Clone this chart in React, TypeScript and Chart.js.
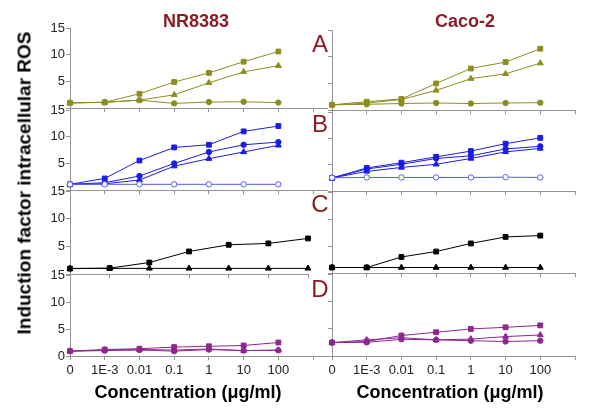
import React, { useEffect, useRef } from 'react';
import { Chart, registerables } from 'chart.js';
Chart.register(...registerables);

// ---------- data ----------
const xLabels = ['0', '1E-3', '0.01', '0.1', '1', '10', '100'];
const yTicks = [0, 5, 10, 15];

const nrA_sq = [1.0, 1.1, 2.7, 4.9, 6.6, 8.7, 10.6];
const nrA_tri = [1.0, 1.1, 1.5, 2.5, 4.75, 6.8, 7.95];
const nrA_circ = [1.0, 1.1, 1.5, 0.9, 1.15, 1.2, 1.05];

const caA_sq = [1.0, 1.6, 2.1, 5.0, 7.8, 9.0, 11.5];
const caA_tri = [1.0, 1.3, 2.0, 3.7, 5.9, 6.8, 8.8];
const caA_circ = [1.0, 1.1, 1.25, 1.35, 1.25, 1.35, 1.4];

const nrB_sq = [1.1, 2.2, 5.55, 8.0, 8.5, 11.0, 12.0];
const nrB_circ = [1.1, 1.4, 2.65, 5.0, 7.15, 8.5, 9.0];
const nrB_tri = [1.1, 1.2, 1.9, 4.5, 5.9, 7.15, 8.4];
const nrB_open = [1.1, 1.1, 1.1, 1.1, 1.1, 1.1, 1.1];

const caB_sq = [2.5, 4.4, 5.4, 6.5, 7.6, 9.0, 10.1];
const caB_circ = [2.5, 4.2, 5.1, 6.2, 6.7, 8.0, 8.5];
const caB_tri = [2.5, 3.75, 4.5, 5.1, 6.2, 7.45, 8.1];
const caB_open = [2.55, 2.6, 2.6, 2.6, 2.6, 2.65, 2.6];

const nrC_sq = [1.0, 1.1, 2.1, 4.1, 5.3, 5.55, 6.45];
const nrC_tri = [1.05, 1.05, 1.05, 1.05, 1.05, 1.05, 1.05];

const caC_sq = [1.05, 1.05, 3.0, 4.0, 5.5, 6.7, 6.95];
const caC_tri = [1.05, 1.05, 1.05, 1.05, 1.05, 1.05, 1.05];

const nrD_sq = [0.9, 1.2, 1.35, 1.65, 1.8, 1.95, 2.5];
const nrD_tri = [0.9, 1.1, 1.2, 1.1, 1.3, 1.0, 1.1];
const nrD_circ = [0.9, 1.0, 1.1, 0.9, 1.2, 1.0, 1.05];

const caD_sq = [2.45, 2.65, 3.75, 4.35, 4.95, 5.25, 5.6];
const caD_tri = [2.45, 2.95, 3.35, 2.95, 3.1, 3.55, 3.85];
const caD_circ = [2.45, 2.5, 3.05, 2.95, 2.8, 2.65, 2.8];

// ---------- styles ----------
const olive = '#8d8d1f';
const blue = '#1c1ce8';
const lightBlue = '#5a5af0';
const black = '#000000';
const purple = '#8e278e';
const axisColor = '#959595';
const darkRed = '#8c1c24';
const FONT = "'Liberation Sans', Arial, sans-serif";

type Series = { values: number[]; style: 'rect' | 'circle' | 'triangle'; color: string; open?: boolean };
type PanelCfg = {
  left: number; right: number; top: number; bottom: number;
  xMax: number; showX: boolean; yMode: 'labels' | 'labelsNoZero' | 'none';
  series: Series[];
};

const panels: PanelCfg[] = [
  { left: 70, right: 327, top: 28, bottom: 109, xMax: 7.4, showX: false, yMode: 'labelsNoZero',
    series: [
      { values: nrA_circ, style: 'circle', color: olive },
      { values: nrA_tri, style: 'triangle', color: olive },
      { values: nrA_sq, style: 'rect', color: olive },
    ] },
  { left: 70, right: 327, top: 110, bottom: 191, xMax: 7.4, showX: false, yMode: 'labelsNoZero',
    series: [
      { values: nrB_open, style: 'circle', color: lightBlue, open: true },
      { values: nrB_tri, style: 'triangle', color: blue },
      { values: nrB_circ, style: 'circle', color: blue },
      { values: nrB_sq, style: 'rect', color: blue },
    ] },
  { left: 70, right: 308, top: 191, bottom: 275, xMax: 6, showX: false, yMode: 'labelsNoZero',
    series: [
      { values: nrC_tri, style: 'triangle', color: black },
      { values: nrC_sq, style: 'rect', color: black },
    ] },
  { left: 70, right: 327, top: 275, bottom: 356, xMax: 7.4, showX: true, yMode: 'labels',
    series: [
      { values: nrD_circ, style: 'circle', color: purple },
      { values: nrD_tri, style: 'triangle', color: purple },
      { values: nrD_sq, style: 'rect', color: purple },
    ] },
  { left: 332, right: 575, top: 30, bottom: 111, xMax: 7, showX: false, yMode: 'none',
    series: [
      { values: caA_circ, style: 'circle', color: olive },
      { values: caA_tri, style: 'triangle', color: olive },
      { values: caA_sq, style: 'rect', color: olive },
    ] },
  { left: 332, right: 575, top: 112, bottom: 192, xMax: 7, showX: false, yMode: 'none',
    series: [
      { values: caB_open, style: 'circle', color: lightBlue, open: true },
      { values: caB_tri, style: 'triangle', color: blue },
      { values: caB_circ, style: 'circle', color: blue },
      { values: caB_sq, style: 'rect', color: blue },
    ] },
  { left: 332, right: 575, top: 192, bottom: 274, xMax: 7, showX: false, yMode: 'none',
    series: [
      { values: caC_tri, style: 'triangle', color: black },
      { values: caC_sq, style: 'rect', color: black },
    ] },
  { left: 332, right: 575, top: 274, bottom: 356, xMax: 7, showX: true, yMode: 'none',
    series: [
      { values: caD_circ, style: 'circle', color: purple },
      { values: caD_tri, style: 'triangle', color: purple },
      { values: caD_sq, style: 'rect', color: purple },
    ] },
];

const PAD_L = 45, PAD_R = 20, PAD_T = 10;

function Panel({ cfg }: { cfg: PanelCfg }) {
  const ref = useRef<HTMLCanvasElement>(null);
  const padB = cfg.showX ? 28 : 8;
  const w = cfg.right - cfg.left + PAD_L + PAD_R;
  const h = cfg.bottom - cfg.top + PAD_T + padB;
  useEffect(() => {
    if (!ref.current) return;
    const xTickVals: number[] = [];
    for (let i = 0; i <= xLabels.length; i++) if (i <= cfg.xMax) xTickVals.push(i);
    const chart = new Chart(ref.current, {
      type: 'line',
      data: {
        datasets: cfg.series.map((s) => ({
          data: s.values.map((v, i) => ({ x: i, y: v })),
          borderColor: s.color,
          borderWidth: 1,
          backgroundColor: s.open ? '#ffffff' : s.color,
          pointStyle: s.style,
          pointRadius: s.style === 'rect' ? 3.4 : s.style === 'triangle' ? 3.4 : 2.7,
          pointBorderWidth: 1,
          pointBorderColor: s.color,
          pointBackgroundColor: s.open ? '#ffffff' : s.color,
          tension: 0,
          clip: false as any,
        })),
      },
      options: {
        responsive: false,
        animation: false,
        events: [],
        layout: { padding: { top: PAD_T, right: PAD_R, left: 0, bottom: 0 } },
        plugins: { legend: { display: false }, tooltip: { enabled: false } },
        scales: {
          x: {
            type: 'linear',
            min: 0,
            max: cfg.xMax,
            afterBuildTicks: (s: any) => { s.ticks = xTickVals.map((v) => ({ value: v })); },
            afterFit: (s: any) => { s.height = padB; },
            grid: { display: true, drawOnChartArea: false, drawTicks: true, tickLength: 4, color: axisColor },
            border: { display: true, color: axisColor, width: 1 },
            ticks: {
              autoSkip: false, maxRotation: 0, padding: 3,
              color: '#222', font: { family: FONT, size: 13 },
              callback: (v: any) => (cfg.showX ? (xLabels[v] ?? '') : ''),
            },
          },
          y: {
            type: 'linear',
            min: 0,
            max: 15,
            afterBuildTicks: (s: any) => { s.ticks = yTicks.map((v) => ({ value: v })); },
            afterFit: (s: any) => { s.width = PAD_L; },
            grid: { display: true, drawOnChartArea: false, drawTicks: true, tickLength: 4, color: axisColor },
            border: { display: true, color: axisColor, width: 1 },
            ticks: {
              padding: 1,
              color: '#222', font: { family: FONT, size: 13 },
              callback: (v: any) => {
                if (cfg.yMode === 'none') return '';
                if (cfg.yMode === 'labelsNoZero' && v === 0) return '';
                return String(v);
              },
            },
          },
        },
      } as any,
    });
    return () => chart.destroy();
  }, []);
  return (
    <canvas
      ref={ref}
      width={w}
      height={h}
      style={{ position: 'absolute', left: cfg.left - PAD_L, top: cfg.top - PAD_T, width: w, height: h }}
    />
  );
}

const letters = [
  { t: 'A', top: 32 },
  { t: 'B', top: 112 },
  { t: 'C', top: 192 },
  { t: 'D', top: 277 },
];

export default function App() {
  return (
    <div style={{ position: 'fixed', left: 0, top: 0, width: 600, height: 408, background: '#fff', overflow: 'hidden', fontFamily: FONT }}>
      {panels.map((p, i) => <Panel key={i} cfg={p} />)}
      <div style={{ position: 'absolute', left: 96, width: 200, top: 12, textAlign: 'center', fontSize: 18, lineHeight: '18px', fontWeight: 'bold', color: darkRed }}>NR8383</div>
      <div style={{ position: 'absolute', left: 365, width: 200, top: 12, textAlign: 'center', fontSize: 18, lineHeight: '18px', fontWeight: 'bold', color: darkRed }}>Caco-2</div>
      {letters.map((l) => (
        <div key={l.t} style={{ position: 'absolute', left: 305, width: 30, top: l.top, textAlign: 'center', fontSize: 24, lineHeight: '24px', color: darkRed }}>{l.t}</div>
      ))}
      <div style={{ position: 'absolute', left: 24, top: 183, transform: 'translate(-50%,-50%) rotate(-90deg)', whiteSpace: 'nowrap', fontSize: 19, lineHeight: '19px', fontWeight: 'bold', color: '#000' }}>
        Induction factor intracellular ROS
      </div>
      <div style={{ position: 'absolute', left: 38, width: 300, top: 383, textAlign: 'center', fontSize: 18, lineHeight: '18px', fontWeight: 'bold', color: '#000' }}>Concentration (μg/ml)</div>
      <div style={{ position: 'absolute', left: 300, width: 300, top: 383, textAlign: 'center', fontSize: 18, lineHeight: '18px', fontWeight: 'bold', color: '#000' }}>Concentration (μg/ml)</div>
    </div>
  );
}
